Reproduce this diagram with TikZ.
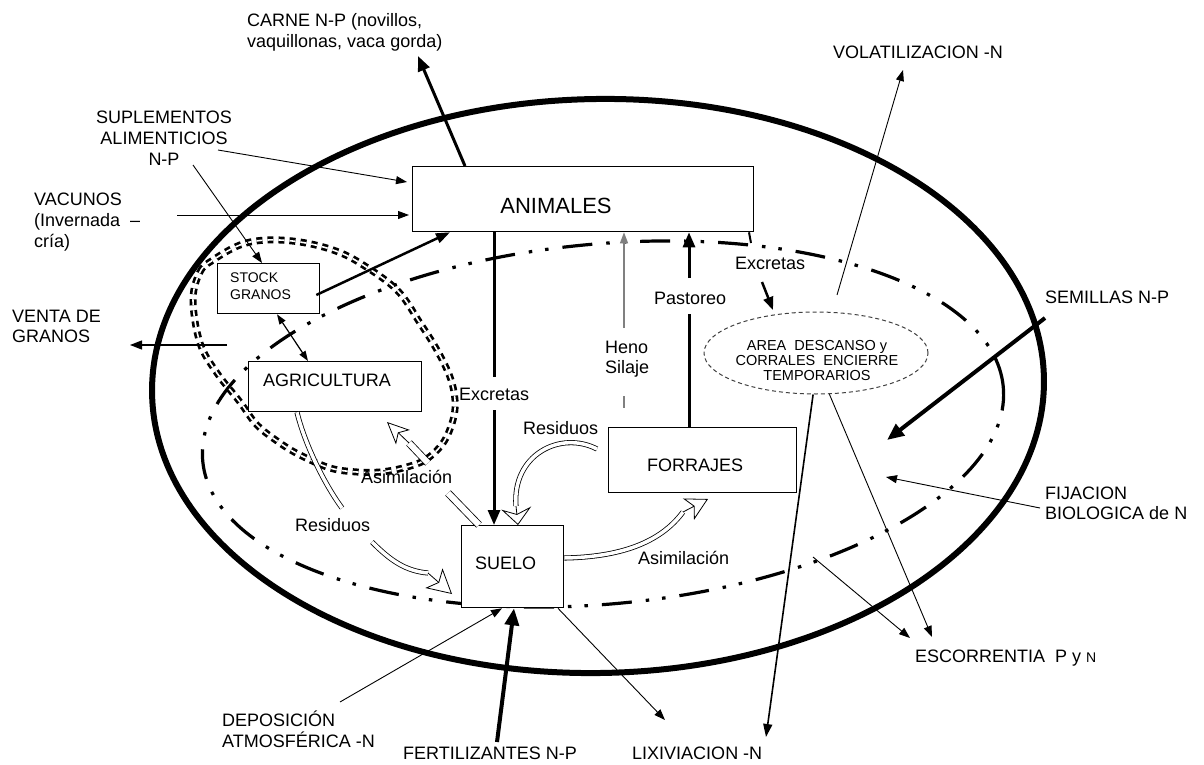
\documentclass[tikz,border=0pt]{standalone}
\usepackage{fontspec}
\setmainfont{Liberation Sans}
\usetikzlibrary{arrows.meta,shapes.geometric}
\tikzset{
  lbl/.style={inner sep=0pt, font=\fontsize{18}{21}\selectfont, align=left},
  box/.style={draw, fill=white, line width=1.3pt, inner sep=0pt, anchor=north west},
  thinarrow/.style={line width=0.9pt, -{Triangle[length=11pt,width=8pt]}},
  boldarrow/.style={line width=3pt, -{Triangle[length=15pt,width=12pt]}},
  heavyarrow/.style={line width=4pt, -{Triangle[length=17pt,width=14pt]}},
  hollow/.style={draw, line width=0.8pt, double=white, double distance=#1},
  hollow/.default=3.5pt,
  hollowtip/.style 2 args={line width=0.8pt, -{Stealth[fill=white, length=#1, width=#2, inset=6pt]}},
  system/.style={line width=6pt},
  fieldline/.style={line width=3.2pt, dash pattern=on 30pt off 14pt on 3.5pt off 13pt on 3.5pt off 14pt},
  stockline/.style={line width=2.7pt, double=white, double distance=1.6pt, dash pattern=on 6pt off 5pt},
}
\begin{document}
\begin{tikzpicture}[x=1pt,y=-1pt]
\useasboundingbox (0,0) rectangle (1204,765);

% farm boundary
\draw[system, rotate around={1:(598,386)}] (598,386) ellipse [x radius=446pt, y radius=287pt];
% grazing area
\draw[fieldline, rotate around={5.3:(603,424)}] (603,424) ellipse [x radius=402pt, y radius=180pt];
% cropping area
\draw[stockline] plot[smooth cycle, tension=0.6] coordinates {
  (193,300) (200,272) (213,260) (240,245) (267,240) (300,242) (333,250) (360,263)
  (397,290) (420,323) (437,350) (450,377) (455,400) (453,420) (443,443) (425,460)
  (403,468) (380,472) (357,472) (330,468) (300,455) (280,443) (257,425) (240,402)
  (217,373) (200,343)};

% compartments
\node[box, minimum width=341pt, minimum height=65pt] (animales) at (412,166) {};
\node[box, minimum width=102pt, minimum height=50pt] (stock) at (217,263) {};
\node[box, minimum width=173pt, minimum height=50pt] (agri) at (248,361) {};
\node[box, minimum width=102pt, minimum height=82pt] (suelo) at (461,525) {};
\node[box, minimum width=188pt, minimum height=65pt] (forrajes) at (608,427) {};
\node[ellipse, draw=black!75, fill=white, line width=1pt, dash pattern=on 4pt off 3pt,
      minimum width=224pt, minimum height=82pt, inner sep=0pt] (area) at (816,353) {};

\node[inner sep=0pt, font=\fontsize{22}{26}\selectfont] (animalesT) at (556,206) {ANIMALES};
\node[lbl, font=\fontsize{14}{17}\selectfont, anchor=west] (stockT) at (230,286.5) {STOCK\\GRANOS};
\node[lbl, anchor=base west] (agriT) at (263,386.4) {AGRICULTURA};
\node[lbl, anchor=base west] (sueloT) at (475,569.4) {SUELO};
\node[lbl, anchor=base west] (forrajesT) at (647,471.4) {FORRAJES};
\node[inner sep=0pt, align=center, font=\fontsize{14.5}{15}\selectfont] (areaT) at (817,361)
  {AREA\ \ DESCANSO y\\CORRALES\ \ ENCIERRE\\TEMPORARIOS};

% outside labels
\node[lbl, anchor=west] (carne) at (247,32.2) {CARNE N-P (novillos,\\vaquillonas, vaca gorda)};
\node[lbl, align=center] (supl) at (164,138) {SUPLEMENTOS\\ALIMENTICIOS\\N-P};
\node[lbl, anchor=west] (vacunos) at (34,222) {VACUNOS\\(Invernada~ --\\cría)};
\node[lbl, font=\fontsize{18}{20}\selectfont, anchor=west] (venta) at (12,326) {VENTA DE\\GRANOS};
\node[lbl, anchor=base west] (volat) at (833,58.4) {VOLATILIZACION -N};
\node[lbl, anchor=base west] (semillas) at (1045,303.4) {SEMILLAS N-P};
\node[lbl, font=\fontsize{18}{20}\selectfont, anchor=west] (fij) at (1045,503) {FIJACION\\BIOLOGICA de N};
\node[lbl, anchor=base west] (escorr) at (915,662.4) {ESCORRENTIA\ \ P y {\fontsize{14}{14}\selectfont N}};
\node[lbl, anchor=west] (depos) at (222,729) {DEPOSICIÓN\\ATMOSFÉRICA -N};
\node[lbl, anchor=base west] (fert) at (403,759.4) {FERTILIZANTES N-P};
\node[lbl, anchor=base west] (lixiv) at (632,759.4) {LIXIVIACION -N};

% inside labels
\node[lbl, anchor=base west] (pastoreo) at (654,304.4) {Pastoreo};
\node[lbl, font=\fontsize{18}{20}\selectfont, anchor=west] (heno) at (605,359) {Heno\\Silaje};
\node[lbl, anchor=base west] (excA) at (735,269.4) {Excretas};
\node[lbl, anchor=base west] (excB) at (459,400.4) {Excretas};
\node[lbl, anchor=base west] (resA) at (523,434.4) {Residuos};
\node[lbl, anchor=base west] (resB) at (295,531.4) {Residuos};
\node[lbl, anchor=base west] (asimA) at (638,564.4) {Asimilación};
\node[lbl, anchor=base west] (asimB) at (361,483.4) {Asimilación};

% free ends
\coordinate (carneTip) at (418,56);
\coordinate (suplOutA) at (218,150);
\coordinate (suplOutB) at (193,165);
\coordinate (vacOut) at (177,215);
\coordinate (ventaIn) at (227,345);
\coordinate (ventaTip) at (130,345);
\coordinate (excGapTop) at (494,377);
\coordinate (excGapBot) at (494,410);
\coordinate (henoTop) at (624,328);
\coordinate (henoLowA) at (624,396);
\coordinate (henoLowB) at (624,408);
\coordinate (pastLow) at (689,314);
\coordinate (pastHigh) at (689,278);
\coordinate (excStub) at (751,243);
\coordinate (excRStart) at (762,282);
\coordinate (excRTip) at (773,310);
\coordinate (volStart) at (837,295);
\coordinate (volTip) at (903,70);
\coordinate (lixTipB) at (766,737);
\coordinate (escTipA) at (932,637);
\coordinate (escFrom) at (813,557);
\coordinate (escTipB) at (910,638);
\coordinate (semStart) at (1045,318);
\coordinate (semTip) at (887,440);
\coordinate (fijStart) at (1040,508);
\coordinate (fijTip) at (886,477);
\coordinate (depStart) at (340,702);
\coordinate (fertStart) at (497,742);
\coordinate (lixTipA) at (665,720);

% flows
\draw[boldarrow] ([xshift=53pt]animales.north west) -- (carneTip);
\draw[thinarrow] (suplOutA) -- ([xshift=-5pt,yshift=-16pt]animales.north west);
\draw[thinarrow] (suplOutB) -- ([xshift=45pt]stock.north west);
\draw[thinarrow] (vacOut) -- ([xshift=-3pt,yshift=-49pt]animales.north west);
\draw[line width=2.5pt, -{Triangle[length=14pt,width=10pt]}]
  ([xshift=-4pt,yshift=-32pt]stock.north east) -- ([xshift=38pt]animales.south west);
\draw[line width=1.2pt, {Triangle[length=10pt,width=7pt]}-{Triangle[length=10pt,width=7pt]}]
  ([xshift=60pt]stock.south west) -- ([xshift=60pt]agri.north west);
\draw[line width=1.3pt, -{Triangle[length=12pt,width=9pt]}] (ventaIn) -- (ventaTip);

\draw[line width=3pt] ([xshift=82pt]animales.south west) -- (excGapTop);
\draw[boldarrow] (excGapBot) -- ([xshift=33pt]suelo.north west);

\draw[line width=1.3pt, draw=black!50, -{Triangle[length=11pt,width=8pt]}]
  (henoTop) -- ([xshift=212pt]animales.south west);
\draw[line width=1.3pt, draw=black!50] (henoLowA) -- (henoLowB);

\draw[line width=3pt] ([xshift=81pt]forrajes.north west) -- (pastLow);
\draw[boldarrow] (pastHigh) -- ([xshift=277pt]animales.south west);

\draw[line width=2pt] ([xshift=337pt]animales.south west) -- (excStub);
\draw[line width=2.5pt, -{Triangle[length=13pt,width=10pt]}] (excRStart) -- (excRTip);

\draw[thinarrow] (volStart) -- (volTip);
\draw[line width=1.6pt, -{Triangle[length=13pt,width=9pt]}] (area.266) -- (lixTipB);
\draw[thinarrow] (area.288) -- (escTipA);
\draw[thinarrow] (escFrom) -- (escTipB);
\draw[heavyarrow] (semStart) -- (semTip);
\draw[thinarrow] (fijStart) -- (fijTip);
\draw[thinarrow] (depStart) -- ([xshift=41pt]suelo.south west);
\draw[heavyarrow] (fertStart) -- ([xshift=53pt]suelo.south west);
\draw[thinarrow] ([xshift=97pt]suelo.south west) -- (lixTipA);

% nutrient cycling (hollow arrows)
\coordinate (resAFrom) at (597,449);
\coordinate (resAEnd) at (516,506);
\coordinate (resATip) at (518,525);
\draw[hollow] (resAFrom) .. controls (560,430) and (512,455) .. (resAEnd);
\draw[hollowtip={17pt}{30pt}] (resAEnd) -- (resATip);

\coordinate (asimAEnd) at (683,512);
\coordinate (asimATip) at (708,499);
\draw[hollow] ([yshift=-33pt]suelo.north east) .. controls (620,557) and (660,543) .. (asimAEnd);
\draw[hollowtip={22pt}{24pt}] (asimAEnd) -- (asimATip);

\coordinate (asimBMid) at (448,493);
\coordinate (asimBRe) at (428,463);
\coordinate (asimBEnd) at (409,443);
\coordinate (asimBTip) at (387,422);
\draw[hollow=6pt] ([xshift=18pt]suelo.north west) -- (asimBMid);
\draw[hollow=6pt] (asimBRe) -- (asimBEnd);
\draw[hollowtip={22pt}{20pt}] (asimBEnd) -- (asimBTip);

\coordinate (resBMid) at (342,508);
\coordinate (resBRe) at (372,542);
\coordinate (resBEnd) at (428,573);
\coordinate (resBTip) at (452,594);
\draw[hollow] ([xshift=49pt]agri.south west) .. controls (305,445) and (325,485) .. (resBMid);
\draw[hollow] (resBRe) .. controls (390,560) and (405,571) .. (resBEnd);
\draw[hollowtip={24pt}{26pt}] (resBEnd) -- (resBTip);
\end{tikzpicture}
\end{document}
